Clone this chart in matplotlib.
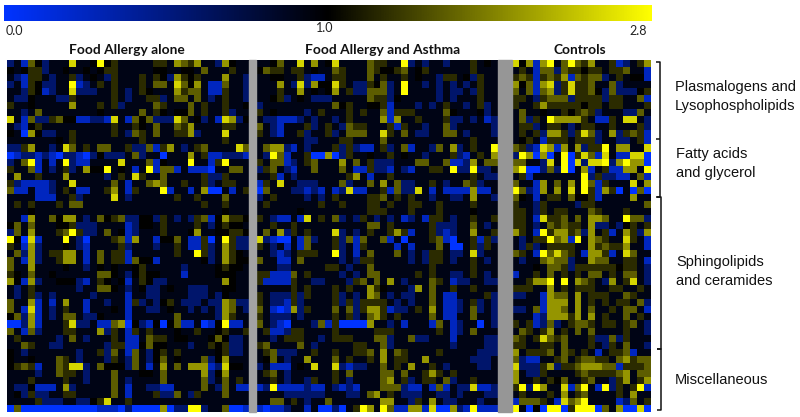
import numpy as np
import matplotlib
matplotlib.use("Agg")
import matplotlib.pyplot as plt
from matplotlib.colors import LinearSegmentedColormap, TwoSlopeNorm
from matplotlib.lines import Line2D

level_values = [0.0, 0.25, 0.58, 0.92, 1.0, 1.3, 1.65, 2.05, 2.5, 2.8]

allergy_rows = [
    "23164 23338 33494 53333 35537 65733 27433", "43455 23343 34345 53333 34433 44363 33533",
    "32155 32335 23432 53335 35427 54533 37332", "23154 22339 12353 53335 36638 64731 16332",
    "33254 12338 22233 53235 43337 56631 15332", "32243 33225 33333 53233 55236 63632 35332",
    "53343 33337 33353 52333 36533 36353 35334", "33236 33333 33343 33336 35434 46353 35233",
    "83162 25644 11221 83164 62228 63423 18724", "32145 33333 33333 53354 36336 57333 35533",
    "43074 22335 33333 53265 36335 57233 38333", "33333 33435 33333 33335 33333 33333 35333",
    "22573 32386 35366 33522 61573 23563 33386", "01221 21022 10242 22362 33033 37351 12221",
    "23691 31392 11333 38333 61433 39331 59333", "53361 32352 37449 34313 91661 31110 33663",
    "37335 33373 33332 35385 33633 33352 25333", "52111 12338 33333 63133 67633 53352 35533",
    "61131 12353 11335 73153 33913 31370 03135", "33331 11335 23333 83233 33335 33533 36333",
    "35353 33536 63333 33333 33333 33353 35333", "33343 33333 33333 33333 33333 33333 34333",
    "33173 36477 32364 56224 42532 32561 47554", "46363 33445 22233 33124 43533 33532 45443",
    "26373 33569 52236 34123 33533 34733 44554", "94081 33393 20333 56173 31446 31150 39522",
    "53172 33343 21333 35233 32335 31152 37522", "36272 35577 31363 55133 33335 33952 37543",
    "63172 33577 31363 55164 41333 33342 37544", "63373 33343 32343 43345 33333 23333 45443",
    "54363 34333 33366 43245 44333 13333 44433", "74172 33444 21354 34135 42233 33333 37433",
    "32353 33333 23366 43234 22343 32223 34433", "32352 32333 33233 33133 22333 32223 24333",
    "63371 31373 31332 33152 32453 22232 27622", "63181 32353 31333 43133 22343 32323 27632",
    "46271 32366 32243 33133 33336 33333 27533", "00271 33358 22311 67042 14046 11301 49113",
    "63162 33355 33372 53153 53334 33533 45335", "35333 33236 32333 53113 65534 43334 64223",
    "33653 32233 33332 55114 64433 32335 45223", "43233 33333 23352 63163 24535 33333 45223",
    "43343 33653 23332 53263 24634 33362 47333", "45651 33658 82364 44263 13736 37771 28443",
    "33332 33655 32333 63334 43633 33372 47333", "33353 33353 32333 63233 33633 33362 36353",
    "32241 11372 33333 63133 22113 33363 26311", "34252 23355 33333 63133 35226 32533 36333",
    "33335 22233 22458 33533 33333 33333 33333", "06000 00000 00011 10200 00702 29923 36001",
]

asthma_rows = [
    "33463 38373 48333 36553 39232 33233 35343", "46553 55343 36533 36544 56345 33333 35333",
    "33443 35211 35533 36353 35343 32553 42533", "33373 28274 48532 25462 39332 32323 23533",
    "33353 37343 47352 26662 39333 32322 32533", "33452 34322 23333 36552 43333 32323 33533",
    "23333 33333 36453 34451 33323 23533 23523", "53433 33235 33353 53361 55533 33643 33423",
    "32211 12323 32353 33371 73353 33522 32312", "63213 33523 53265 53335 15332 33623 33332",
    "53213 35233 52366 63385 36322 33663 23332", "33333 33223 33553 33363 33333 33333 35333",
    "36772 13233 35252 11352 36133 26372 35339", "32961 33500 70253 34335 34332 33352 13537",
    "53661 23563 33736 35222 33366 33611 27366", "25632 13363 33631 15221 32133 55392 29223",
    "33513 23333 33357 31335 33333 33333 35322", "15383 32223 33623 36373 62233 53233 65233",
    "06333 22121 31281 13351 62283 13111 17113", "23533 33232 35333 35563 53533 23322 37332",
    "35333 33335 33533 35535 33553 35333 35333", "33333 34333 33333 35553 33533 35333 34333",
    "53211 31835 36232 53232 31231 55323 35335", "33533 53333 33333 36635 33333 52223 36323",
    "36372 53533 38232 35335 75133 52123 37335", "82100 31623 35261 63361 30333 56103 35152",
    "53231 31633 35231 53333 13133 36300 35253", "33212 35553 39231 36333 63232 55322 38233",
    "63311 36333 33232 55333 33232 55323 35323", "33322 33333 55323 36333 33333 53333 35333",
    "55111 63533 33232 36633 33353 53322 35323", "51111 53322 33325 63637 32333 65312 23322",
    "33333 53533 35353 37543 33273 63353 35333", "53222 52533 35232 37632 32233 63113 33352",
    "53221 52333 35252 55553 23233 63112 35232", "63101 72533 36362 57751 22353 73112 36232",
    "53222 32333 35352 36753 53333 63113 36332", "63210 33326 15000 07332 31333 16312 33032",
    "35112 55333 35333 33555 33333 35312 36333", "33235 55332 35553 33662 33622 33313 33322",
    "56333 36323 33335 53362 33333 33323 33322", "35622 23353 35335 56373 65333 35333 33222",
    "34632 33733 36353 35373 55337 33333 32223", "23111 34383 38212 23363 53733 53233 33223",
    "35632 33333 35363 33366 36335 75353 33333", "33532 33253 35323 33367 35235 53623 35333",
    "12911 11211 32121 33366 62113 16132 28112", "33332 22222 33322 36735 32223 32232 33322",
    "33663 53233 63333 33377 33253 73223 33233", "10112 33130 02035 97396 11771 80072 19111",
]

control_rows = [
    "84717 93696 57335 12357", "35316 62655 45535 56331", "56515 65716 56623 53441", "74617 82585 56336 23333",
    "63616 72585 56426 22245", "55325 66625 55525 53361", "53357 55555 45535 53335", "36334 33545 65233 32263",
    "36253 97777 53115 38832", "35523 55323 55335 33352", "35352 77525 86237 25651", "34531 55535 55233 22351",
    "65218 71737 25593 77338", "29707 03905 86183 11880", "66332 83908 28892 79770", "79002 62903 71351 17739",
    "35133 33333 92522 11361", "63317 36373 96153 33837", "96217 37383 95175 03060", "64313 55364 45133 33733",
    "53325 33332 55333 33336", "55325 35533 36533 35333", "55318 55636 37763 39662", "55323 65655 37223 24535",
    "75319 57756 27351 37527", "32355 96719 37653 38531", "32523 55553 37565 57331", "65319 68653 17751 38633",
    "32336 76623 37663 35531", "33343 66525 55555 45532", "13353 63535 36635 36632", "33577 93937 65327 35832",
    "55533 73535 55335 53353", "22331 76637 35553 36533", "33331 77737 35353 55362", "22361 77637 36335 36631",
    "33312 77757 37353 36353", "53512 62356 65355 35632", "36535 73536 36333 35332", "65358 65633 35226 25333",
    "55335 53633 35325 36332", "73555 63653 53135 56133", "62113 35635 66553 67566", "82225 72556 77766 15556",
    "73225 33335 65555 67366", "73353 54633 56332 57357", "59297 33816 93192 53591", "35333 53735 63333 53733",
    "16665 31867 93333 12635", "93040 99059 99063 70080",
]

group_titles = ["Food Allergy alone", "Food Allergy and Asthma", "Controls"]
colorbar_labels = ["0.0", "1.0", "2.8"]
lipid_classes = ["Plasmalogens and\nLysophospholipids", "Fatty acids\nand glycerol",
                 "Sphingolipids\nand ceramides", "Miscellaneous"]

W, H = 800, 417


def rows_to_array(rows):
    return np.array([[level_values[int(c)] for c in r.replace(" ", "")] for r in rows])


def px_axes(fig, x0, x1, y0, y1):
    # axes from pixel box, y measured from the top
    ax = fig.add_axes([x0 / W, 1 - y1 / H, (x1 - x0) / W, (y1 - y0) / H])
    ax.set_axis_off()
    return ax


def px_line(fig, xs, ys):
    fig.add_artist(Line2D([x / W for x in xs], [1 - y / H for y in ys], color="#111111", lw=1.1,
                          transform=fig.transFigure, solid_capstyle="butt"))


def px_text(fig, x, y, s, **kw):
    fig.text(x / W, 1 - y / H, s, **kw)


cmap = LinearSegmentedColormap.from_list("bky", ["#0033ff", "#000000", "#ffff00"])
norm = TwoSlopeNorm(vmin=0.0, vcenter=1.0, vmax=2.8)

fig = plt.figure(figsize=(W / 100, H / 100), dpi=100)

# colour bar along the top, black sits at the middle
cax = px_axes(fig, 4, 652, 5, 21)
cax.imshow(np.linspace(0, 1, 512).reshape(1, -1), cmap=cmap, aspect="auto")

px_text(fig, 14, 31, colorbar_labels[0], family="Lato", fontsize=9, ha="center", va="center", color="#222222")
px_text(fig, 325, 28, colorbar_labels[1], family="Lato", fontsize=9, ha="center", va="center", color="#222222")
px_text(fig, 638, 31, colorbar_labels[2], family="Lato", fontsize=9, ha="center", va="center", color="#222222")

# three heat map blocks with grey spacers
blocks = [(allergy_rows, 6.5, 249), (asthma_rows, 256, 498), (control_rows, 512, 651)]
for rows, x0, x1 in blocks:
    ax = px_axes(fig, x0, x1, 60, 412)
    ax.imshow(rows_to_array(rows), cmap=cmap, norm=norm, aspect="auto", interpolation="nearest")

fig.patches.append(plt.Rectangle((249 / W, 1 - 412 / H), 7 / W, 352 / H, color="#a3a3a3", transform=fig.transFigure))
fig.patches.append(plt.Rectangle((498 / W, 1 - 412 / H), 14 / W, 352 / H, color="#969696", transform=fig.transFigure))

px_text(fig, 127, 50, group_titles[0], family="Lato", fontweight="bold", fontsize=9.9, ha="center", va="center", color="#111111")
px_text(fig, 383, 50, group_titles[1], family="Lato", fontweight="bold", fontsize=9.9, ha="center", va="center", color="#111111")
px_text(fig, 580, 50, group_titles[2], family="Lato", fontweight="bold", fontsize=9.9, ha="center", va="center", color="#111111")

# brackets on the right
px_line(fig, [656, 660, 660, 656], [61.5, 61.5, 197, 197])
px_line(fig, [656, 660], [139, 139])
px_line(fig, [657, 661, 661, 657], [197, 197, 349, 349])
px_line(fig, [657, 661, 661, 657], [349, 349, 410, 410])

label_pos = [(675, 96.5), (676, 163.5), (676, 271.5), (675, 380)]
for s, (x, y) in zip(lipid_classes, label_pos):
    px_text(fig, x, y, s, family="Liberation Sans", fontsize=10.5, ha="left", va="center",
            color="#111111", linespacing=1.42)

fig.savefig("out.png", dpi=100)
